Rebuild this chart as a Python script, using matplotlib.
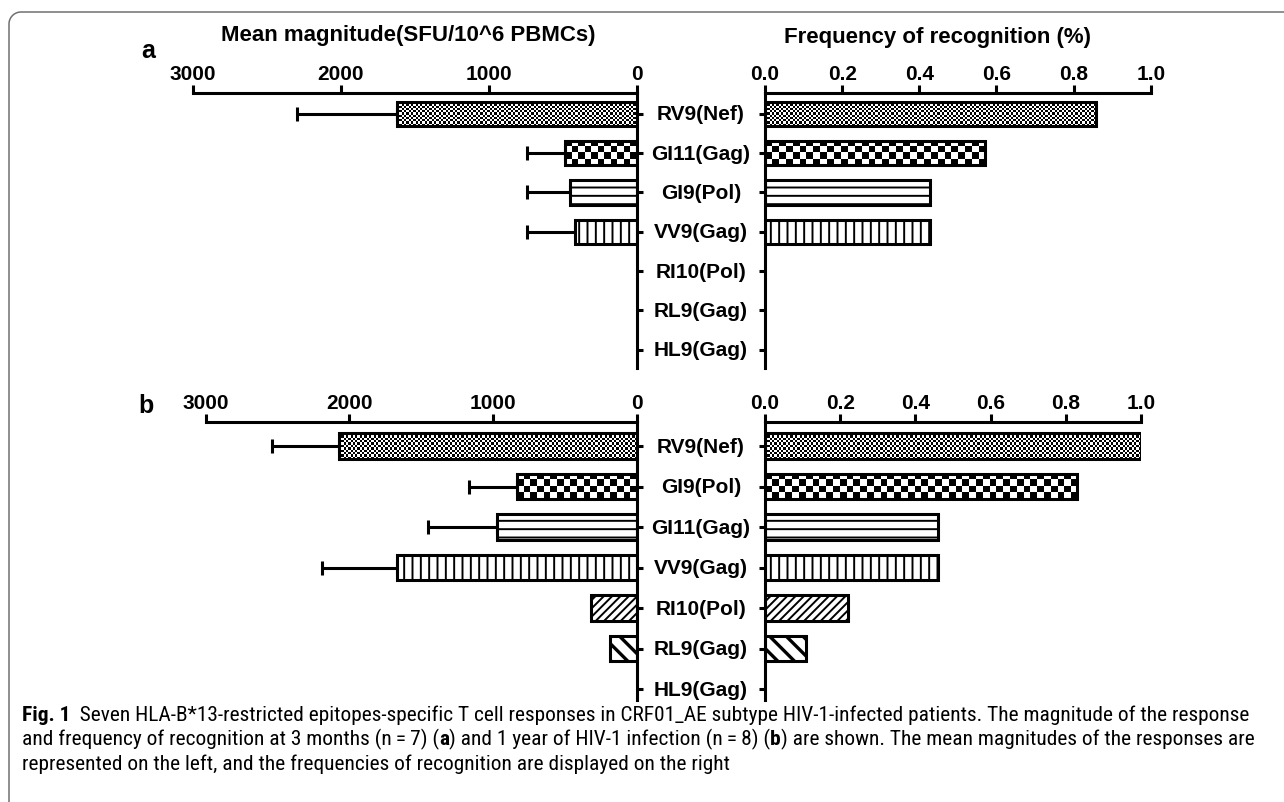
import numpy as np
import matplotlib
matplotlib.use("Agg")
import matplotlib.pyplot as plt
from matplotlib import transforms, font_manager

W, H = 1284, 803

# --- data ---
labels_a = ["RV9(Nef)", "GI11(Gag)", "GI9(Pol)", "VV9(Gag)", "RI10(Pol)", "RL9(Gag)", "HL9(Gag)"]
mag_a = [1622, 484, 450, 417, 0, 0, 0]
err_a = [675, 259, 293, 326, 0, 0, 0]
freq_a = [0.857, 0.571, 0.429, 0.429, 0, 0, 0]

labels_b = ["RV9(Nef)", "GI9(Pol)", "GI11(Gag)", "VV9(Gag)", "RI10(Pol)", "RL9(Gag)", "HL9(Gag)"]
mag_b = [2072, 830, 974, 1666, 317, 185, 0]
err_b = [468, 334, 476, 526, 0, 0, 0]
freq_b = [1.0, 0.83, 0.46, 0.46, 0.22, 0.11, 0]

mag_ticks = [3000, 2000, 1000, 0]
freq_ticks = [0.0, 0.2, 0.4, 0.6, 0.8, 1.0]

# fill pattern by row position
patterns = ["checker_fine", "checker_coarse", "--", "||", "////", "\\\\", None]

plt.rcParams['font.family'] = ['Liberation Sans', 'DejaVu Sans']
plt.rcParams['font.weight'] = 'bold'
plt.rcParams['hatch.linewidth'] = 1.4
LW = 2.2
BAR_H = 0.62


def px_rect(x0, x1, ytop, ybot):
    return [x0 / W, 1 - ybot / H, (x1 - x0) / W, (ybot - ytop) / H]


def draw_bars(ax, values, errs, xlim, ylim):
    ax.set_xlim(*xlim)
    ax.set_ylim(*ylim)
    bb = ax.get_window_extent()
    sx = bb.width / abs(xlim[1] - xlim[0])
    sy = bb.height / abs(ylim[1] - ylim[0])
    for i, (v, e, pat) in enumerate(zip(values, errs, patterns)):
        if v <= 0:
            continue
        if pat.startswith("checker"):
            cell = 2.3 if pat == "checker_fine" else 6.8
            nx = max(1, int(round(v * sx / cell)))
            ny = max(1, int(round(BAR_H * sy / cell)))
            board = np.indices((ny, nx)).sum(axis=0) % 2
            ax.imshow(board, cmap="gray", vmin=0, vmax=1, aspect="auto",
                      interpolation="nearest", zorder=1,
                      extent=(0, v, i + BAR_H / 2, i - BAR_H / 2))
            ax.barh(i, v, BAR_H, facecolor="none", edgecolor="black",
                    linewidth=LW, zorder=2)
        else:
            lw = 2.4 if pat == "\\\\" else 1.4
            with plt.rc_context({'hatch.linewidth': lw}):
                bars = ax.barh(i, v, BAR_H, facecolor="white", edgecolor="black",
                               linewidth=LW, hatch=pat, zorder=2)
            for b in bars:
                if hasattr(b, "set_hatch_linewidth"):
                    b.set_hatch_linewidth(lw)
        if e > 0:
            ax.errorbar(v, i, xerr=[[0], [e]], fmt="none", ecolor="black",
                        elinewidth=LW, capsize=4.8, capthick=LW, zorder=1.5)
    ax.set_xlim(*xlim)
    ax.set_ylim(*ylim)


def style_left(ax):
    for s in ("left", "bottom"):
        ax.spines[s].set_visible(False)
    for s in ("right", "top"):
        ax.spines[s].set_linewidth(LW)
    ax.xaxis.tick_top()
    ax.set_xticks(mag_ticks)
    ax.set_xticklabels([str(t) for t in mag_ticks])
    ax.tick_params(axis="x", direction="out", length=6, width=LW, pad=1, labelsize=15)
    ax.yaxis.tick_right()
    ax.set_yticks(range(7))
    ax.set_yticklabels([])
    ax.tick_params(axis="y", direction="out", length=4.5, width=LW)


def style_right(ax):
    for s in ("right", "bottom"):
        ax.spines[s].set_visible(False)
    for s in ("left", "top"):
        ax.spines[s].set_linewidth(LW)
    ax.xaxis.tick_top()
    ax.set_xticks(freq_ticks)
    ax.set_xticklabels([f"{t:.1f}" for t in freq_ticks])
    ax.tick_params(axis="x", direction="out", length=6, width=LW, pad=1, labelsize=15)
    ax.yaxis.tick_left()
    ax.set_yticks(range(7))
    ax.set_yticklabels([])
    ax.tick_params(axis="y", direction="out", length=4.5, width=LW)


fig = plt.figure(figsize=(W / 100, H / 100), dpi=100)
fig.patch.set_facecolor("white")

panels = [
    # labels, mag, err, freq, left x-range, right x-range, y-range, ylim
    (labels_a, mag_a, err_a, freq_a, (192.7, 636.7), (765, 1150.7), (94, 369), (6.465, -0.53)),
    (labels_b, mag_b, err_b, freq_b, (205.7, 636.5), (765, 1141), (423, 701), (6.27, -0.593)),
]

for labels, mag, err, freq, lx, rx, yr, ylim in panels:
    axL = fig.add_axes(px_rect(lx[0], lx[1], yr[0], yr[1]))
    axR = fig.add_axes(px_rect(rx[0], rx[1], yr[0], yr[1]))
    style_left(axL)
    style_right(axR)
    draw_bars(axL, mag, err, (3000, 0), ylim)
    draw_bars(axR, freq, [0] * 7, (0, 1), ylim)
    trans = transforms.blended_transform_factory(fig.transFigure, axL.transData)
    for i, lab in enumerate(labels):
        fig.text(701 / W, i, lab, transform=trans, ha="center", va="center",
                 fontsize=15, fontweight="bold")

fig.text(408 / W, 1 - 35 / H, "Mean magnitude(SFU/10^6 PBMCs)", ha="center",
         va="center", fontsize=16, fontweight="bold")
fig.text(937 / W, 1 - 37 / H, "Frequency of recognition (%)", ha="center",
         va="center", fontsize=16, fontweight="bold")
fig.text(148 / W, 1 - 51 / H, "a", ha="center", va="center", fontsize=18, fontweight="bold")
fig.text(146 / W, 1 - 406 / H, "b", ha="center", va="center", fontsize=18, fontweight="bold")

# --- frame with rounded top-left corner ---
r = 12
bx, by = 9, 13
ang = np.linspace(np.pi, np.pi / 2, 20)
xs = np.concatenate([[bx], bx + r + r * np.cos(ang), [W]])
ys = np.concatenate([[H], by + r - r * np.sin(ang), [by]])
fig.add_artist(plt.Line2D(xs / W, 1 - ys / H, transform=fig.transFigure,
                          color="#707070", linewidth=1.1))


# --- caption ---
def pick_font(names):
    for n in names:
        try:
            font_manager.findfont(font_manager.FontProperties(family=n),
                                  fallback_to_default=False)
            return n
        except ValueError:
            pass
    return "DejaVu Sans"


cap_font = pick_font(["Liberation Sans Narrow", "Roboto Condensed", "Noto Sans"])
cap_family = [cap_font, "DejaVu Sans"]

caption = [
    [("Fig. 1", "bold"),
     ("  Seven HLA-B*13-restricted epitopes-specific T cell responses in CRF01_AE subtype "
      "HIV-1-infected patients. The magnitude of the response", "normal")],
    [("and frequency of recognition at 3 months (n\u2009=\u20097) (", "normal"), ("a", "bold"),
     (") and 1 year of HIV-1 infection (n\u2009=\u20098) (", "normal"), ("b", "bold"),
     (") are shown. The mean magnitudes of the responses are", "normal")],
    [("represented on the left, and the frequencies of recognition are displayed on the right",
      "normal")],
]
renderer = fig.canvas.get_renderer()


def line_width(segs, size):
    w = 0
    for txt, wt in segs:
        t = fig.text(0, 0, txt, fontsize=size, fontweight=wt, family=cap_family)
        w += t.get_window_extent(renderer).width
        t.remove()
    return w


cap_size = 12 * (1228 / line_width(caption[0], 12))
for k, segs in enumerate(caption):
    x = 22
    y = 721 + 24.5 * k
    for txt, wt in segs:
        t = fig.text(x / W, 1 - y / H, txt, fontsize=cap_size, fontweight=wt,
                     family=cap_family, ha="left", va="baseline")
        x += t.get_window_extent(renderer).width

fig.savefig("out.png", dpi=100, facecolor="white")
